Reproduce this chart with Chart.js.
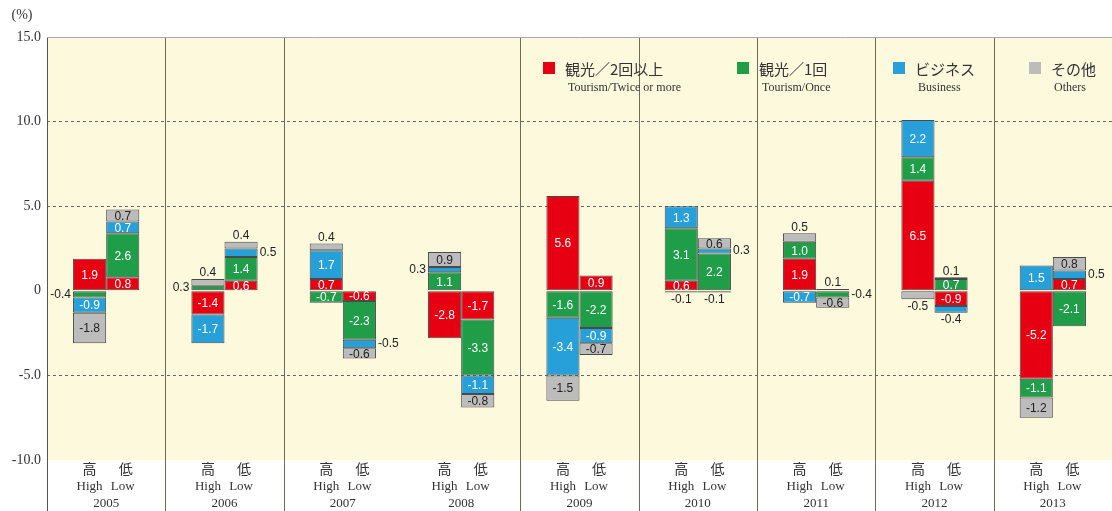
<!DOCTYPE html>
<html>
<head>
<meta charset="utf-8">
<script src="https://cdn.jsdelivr.net/npm/chart.js@4/dist/chart.umd.min.js"></script>
<style>
  html, body { margin: 0; padding: 0; background: #fff; }
  #wrap { width: 1112px; height: 511px; position: relative; }
</style>
</head>
<body>
<div id="wrap"><canvas id="chart"></canvas></div>
<script>
const years = ['2005', '2006', '2007', '2008', '2009', '2010', '2011', '2012', '2013'];
const seriesJa = ['観光／2回以上', '観光／1回', 'ビジネス', 'その他'];
const seriesEn = ['Tourism/Twice or more', 'Tourism/Once', 'Business', 'Others'];
const yTicks = [15, 10, 5, 0, -5, -10];

// High / Low contributions (%)
const twiceHigh = [1.9, -1.4, 0.7, -2.8, 5.6, 0.6, 1.9, 6.5, -5.2];
const twiceLow  = [0.8, 0.6, -0.6, -1.7, 0.9, -0.1, 0, -0.9, 0.7];
const onceHigh  = [-0.4, 0.3, -0.7, 1.1, -1.6, 3.1, 1.0, 1.4, -1.1];
const onceLow   = [2.6, 1.4, -2.3, -3.3, -2.2, 2.2, -0.4, 0.7, -2.1];
const bizHigh   = [-0.9, -1.7, 1.7, 0.3, -3.4, 1.3, -0.7, 2.2, 1.5];
const bizLow    = [0.7, 0.5, -0.5, -1.1, -0.9, 0.3, 0.1, -0.4, 0.5];
const otherHigh = [-1.8, 0.4, 0.4, 0.9, -1.5, -0.1, 0.5, -0.5, -1.2];
const otherLow  = [0.7, 0.4, -0.6, -0.8, -0.7, 0.6, -0.6, 0.1, 0.8];

const colors = ['#e60012', '#1f9d48', '#27a0da', '#bcbcbc'];
const labelColors = ['#fff', '#fff', '#fff', '#222'];

const highSets = [twiceHigh, onceHigh, bizHigh, otherHigh];
const lowSets = [twiceLow, onceLow, bizLow, otherLow];

const datasets = [];
highSets.forEach((d, i) => datasets.push({ label: seriesEn[i], data: d, stack: 'high', backgroundColor: colors[i], series: i }));
lowSets.forEach((d, i) => datasets.push({ label: seriesEn[i], data: d, stack: 'low', backgroundColor: colors[i], series: i }));

// background, column dividers, legend, axis texts
const decor = {
    id: 'decor',
    beforeDraw(chart) {
        const { ctx, chartArea: a } = chart;
        ctx.save();
        ctx.fillStyle = '#fff';
        ctx.fillRect(0, 0, chart.width, chart.height);
        ctx.fillStyle = '#fdf9dd';
        ctx.fillRect(a.left, a.top, a.right - a.left, a.bottom - a.top);
        ctx.restore();
    },
    beforeDatasetsDraw(chart) {
        const { ctx, chartArea: a, scales: { x } } = chart;
        ctx.save();
        ctx.strokeStyle = '#6b6b5a';
        ctx.lineWidth = 1;
        // dividers between years (none between 2007 and 2008, as in the original)
        for (let i = 0; i < years.length - 1; i++) {
            if (i === 2) continue;
            const px = Math.round((x.getPixelForValue(i) + x.getPixelForValue(i + 1)) / 2) + 0.5;
            ctx.beginPath();
            ctx.moveTo(px, a.top);
            ctx.lineTo(px, chart.height);
            ctx.stroke();
        }
        // left axis
        ctx.strokeStyle = '#555';
        ctx.beginPath();
        ctx.moveTo(a.left + 0.5, a.top);
        ctx.lineTo(a.left + 0.5, chart.height);
        ctx.stroke();
        // top border
        ctx.strokeStyle = '#aaa';
        ctx.beginPath();
        ctx.moveTo(a.left, a.top + 0.5);
        ctx.lineTo(a.right, a.top + 0.5);
        ctx.stroke();
        ctx.restore();
    },
    afterDraw(chart) {
        const { ctx, chartArea: a } = chart;
        ctx.save();
        ctx.fillStyle = '#333';
        ctx.textAlign = 'center';
        ctx.textBaseline = 'middle';
        ctx.font = '14px "Liberation Serif"';
        ctx.fillText('(%)', 22, 15);

        // x labels under each pair of bars
        const mh = chart.getDatasetMeta(0);
        const ml = chart.getDatasetMeta(4);
        years.forEach((yr, i) => {
            const hx = mh.data[i].x, lx = ml.data[i].x;
            ctx.font = '14px "Noto Sans CJK JP"';
            ctx.fillText('高', hx, a.bottom + 9);
            ctx.fillText('低', lx + 3, a.bottom + 9);
            ctx.font = '13px "Liberation Serif"';
            ctx.fillText('High', hx, a.bottom + 27);
            ctx.fillText('Low', lx, a.bottom + 27);
            ctx.fillText(yr, (hx + lx) / 2, a.bottom + 44);
        });

        // legend
        const legX = [543, 737, 893, 1029];
        legX.forEach((lx, i) => {
            ctx.fillStyle = colors[i];
            ctx.fillRect(lx, 62, 12, 12);
            ctx.fillStyle = '#333';
            ctx.textAlign = 'left';
            ctx.font = '15px "Noto Sans CJK JP"';
            ctx.fillText(seriesJa[i], lx + 22, 69);
            ctx.font = '12px "Liberation Serif"';
            ctx.fillText(seriesEn[i], lx + 25, 88);
        });
        ctx.restore();
    },
    afterDatasetsDraw(chart) {
        const { ctx } = chart;
        const ds = chart.data.datasets;
        ctx.save();
        ctx.font = '12px "Liberation Sans"';
        ds.forEach((set, di) => {
            const meta = chart.getDatasetMeta(di);
            set.data.forEach((v, i) => {
                if (!v) return;
                const el = meta.data[i];
                const top = Math.min(el.y, el.base), bot = Math.max(el.y, el.base);
                const left = el.x - el.width / 2, right = el.x + el.width / 2;
                const txt = v.toFixed(1);
                if (Math.abs(v) >= 0.6) {
                    ctx.fillStyle = labelColors[set.series];
                    ctx.textAlign = 'center';
                    ctx.textBaseline = 'middle';
                    ctx.fillText(txt, el.x, (top + bot) / 2 + 1);
                    return;
                }
                // is this the outermost segment on its side of zero?
                let outer = true;
                for (let k = di + 1; k < ds.length; k++) {
                    if (ds[k].stack !== set.stack) continue;
                    const w = ds[k].data[i];
                    if (w && Math.sign(w) === Math.sign(v)) outer = false;
                }
                ctx.fillStyle = '#222';
                if (outer && v > 0) {
                    ctx.textAlign = 'center'; ctx.textBaseline = 'bottom';
                    ctx.fillText(txt, el.x, top);
                } else if (outer) {
                    ctx.textAlign = 'center'; ctx.textBaseline = 'top';
                    ctx.fillText(txt, el.x, bot + 1);
                } else if (set.stack === 'high') {
                    ctx.textAlign = 'right'; ctx.textBaseline = 'middle';
                    ctx.fillText(txt, left - 2, (top + bot) / 2);
                } else {
                    ctx.textAlign = 'left'; ctx.textBaseline = 'middle';
                    ctx.fillText(txt, right + 2, (top + bot) / 2);
                }
            });
        });
        ctx.restore();
    }
};

new Chart(document.getElementById('chart'), {
    type: 'bar',
    data: { labels: years, datasets },
    options: {
        responsive: true,
        maintainAspectRatio: false,
        animation: false,
        layout: { padding: { top: 37, bottom: 51, left: 0, right: 0 } },
        datasets: {
            bar: {
                categoryPercentage: 0.56,
                barPercentage: 1,
                borderWidth: 1,
                borderColor: '#4a4a4a',
                borderSkipped: false
            }
        },
        plugins: { legend: { display: false }, tooltip: { enabled: false } },
        scales: {
            x: {
                stacked: true,
                grid: { display: false, drawTicks: false },
                border: { display: false },
                ticks: { display: false },
                afterFit: s => { s.height = 0; }
            },
            y: {
                stacked: true,
                min: -10,
                max: 15,
                afterFit: s => { s.width = 47; },
                afterBuildTicks: s => { s.ticks = yTicks.map(v => ({ value: v })); },
                grid: {
                    drawTicks: false,
                    color: c => [10, 5, -5].includes(c.tick && c.tick.value) ? '#666' : 'transparent'
                },
                border: { display: false, dash: [3, 3] },
                ticks: {
                    padding: 6,
                    color: '#333',
                    font: { family: 'Liberation Serif', size: 14 },
                    callback: v => v === 0 ? '0' : v.toFixed(1)
                }
            }
        }
    },
    plugins: [decor]
});
</script>
</body>
</html>
